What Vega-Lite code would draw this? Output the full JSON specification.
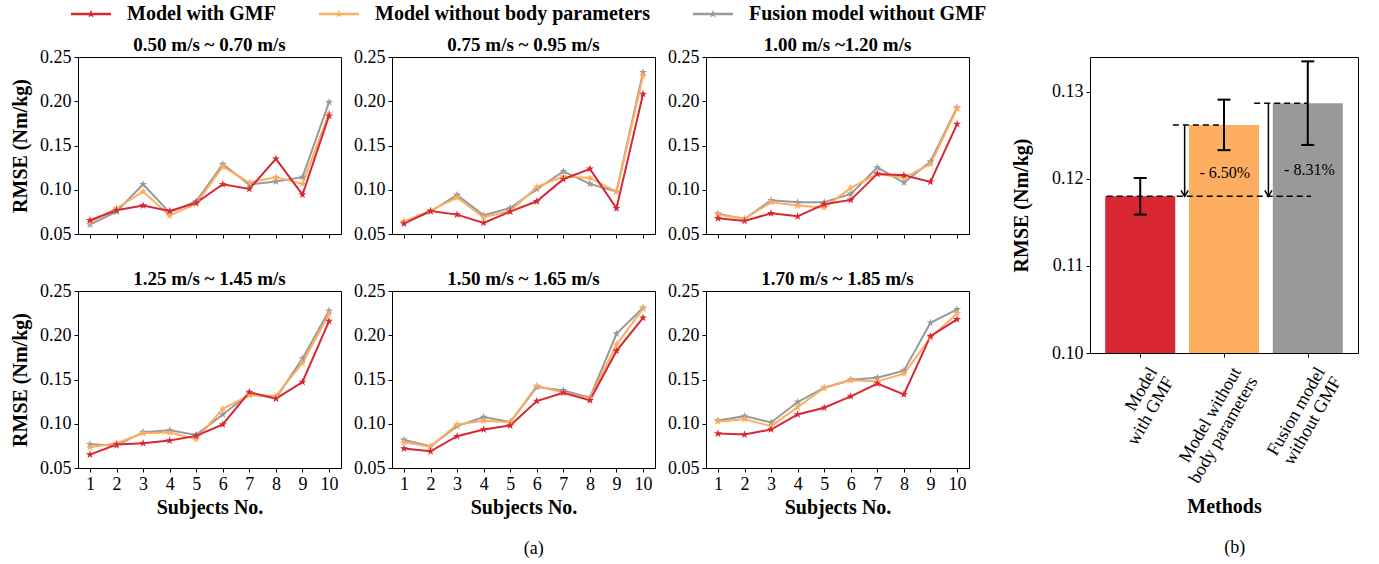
{
  "$schema": "https://vega.github.io/schema/vega-lite/v6.json",
  "padding": {"left": 10, "top": 4, "right": 5, "bottom": 5},
  "background": "white",
  "config": {
    "font": "Liberation Serif",
    "view": {"stroke": "#000", "strokeWidth": 1},
    "axis": {"labelFontSize": 18, "titleFontSize": 20, "titleFontWeight": "bold", "labelColor": "#000", "titleColor": "#000", "tickColor": "#000", "domainColor": "#000", "tickSize": 4, "grid": false, "labelPadding": 3, "domainWidth": 1, "tickWidth": 1},
    "title": {"fontSize": 19, "fontWeight": "bold", "color": "#000", "offset": -7}
  },
  "datasets": {
    "lines": [
      {"speed": "0.50 m/s ~ 0.70 m/s", "method": "Fusion model without GMF", "subject": 1, "rmse": 0.0606},
      {"speed": "0.50 m/s ~ 0.70 m/s", "method": "Fusion model without GMF", "subject": 2, "rmse": 0.0753},
      {"speed": "0.50 m/s ~ 0.70 m/s", "method": "Fusion model without GMF", "subject": 3, "rmse": 0.1062},
      {"speed": "0.50 m/s ~ 0.70 m/s", "method": "Fusion model without GMF", "subject": 4, "rmse": 0.0742},
      {"speed": "0.50 m/s ~ 0.70 m/s", "method": "Fusion model without GMF", "subject": 5, "rmse": 0.0870},
      {"speed": "0.50 m/s ~ 0.70 m/s", "method": "Fusion model without GMF", "subject": 6, "rmse": 0.1289},
      {"speed": "0.50 m/s ~ 0.70 m/s", "method": "Fusion model without GMF", "subject": 7, "rmse": 0.1058},
      {"speed": "0.50 m/s ~ 0.70 m/s", "method": "Fusion model without GMF", "subject": 8, "rmse": 0.1092},
      {"speed": "0.50 m/s ~ 0.70 m/s", "method": "Fusion model without GMF", "subject": 9, "rmse": 0.1142},
      {"speed": "0.50 m/s ~ 0.70 m/s", "method": "Fusion model without GMF", "subject": 10, "rmse": 0.1990},
      {"speed": "0.50 m/s ~ 0.70 m/s", "method": "Model without body parameters", "subject": 1, "rmse": 0.0632},
      {"speed": "0.50 m/s ~ 0.70 m/s", "method": "Model without body parameters", "subject": 2, "rmse": 0.0791},
      {"speed": "0.50 m/s ~ 0.70 m/s", "method": "Model without body parameters", "subject": 3, "rmse": 0.0979},
      {"speed": "0.50 m/s ~ 0.70 m/s", "method": "Model without body parameters", "subject": 4, "rmse": 0.0708},
      {"speed": "0.50 m/s ~ 0.70 m/s", "method": "Model without body parameters", "subject": 5, "rmse": 0.0843},
      {"speed": "0.50 m/s ~ 0.70 m/s", "method": "Model without body parameters", "subject": 6, "rmse": 0.1262},
      {"speed": "0.50 m/s ~ 0.70 m/s", "method": "Model without body parameters", "subject": 7, "rmse": 0.1081},
      {"speed": "0.50 m/s ~ 0.70 m/s", "method": "Model without body parameters", "subject": 8, "rmse": 0.1142},
      {"speed": "0.50 m/s ~ 0.70 m/s", "method": "Model without body parameters", "subject": 9, "rmse": 0.1066},
      {"speed": "0.50 m/s ~ 0.70 m/s", "method": "Model without body parameters", "subject": 10, "rmse": 0.1866},
      {"speed": "0.50 m/s ~ 0.70 m/s", "method": "Model with GMF", "subject": 1, "rmse": 0.0655},
      {"speed": "0.50 m/s ~ 0.70 m/s", "method": "Model with GMF", "subject": 2, "rmse": 0.0768},
      {"speed": "0.50 m/s ~ 0.70 m/s", "method": "Model with GMF", "subject": 3, "rmse": 0.0821},
      {"speed": "0.50 m/s ~ 0.70 m/s", "method": "Model with GMF", "subject": 4, "rmse": 0.0760},
      {"speed": "0.50 m/s ~ 0.70 m/s", "method": "Model with GMF", "subject": 5, "rmse": 0.0851},
      {"speed": "0.50 m/s ~ 0.70 m/s", "method": "Model with GMF", "subject": 6, "rmse": 0.1062},
      {"speed": "0.50 m/s ~ 0.70 m/s", "method": "Model with GMF", "subject": 7, "rmse": 0.1009},
      {"speed": "0.50 m/s ~ 0.70 m/s", "method": "Model with GMF", "subject": 8, "rmse": 0.1349},
      {"speed": "0.50 m/s ~ 0.70 m/s", "method": "Model with GMF", "subject": 9, "rmse": 0.0945},
      {"speed": "0.50 m/s ~ 0.70 m/s", "method": "Model with GMF", "subject": 10, "rmse": 0.1836},

      {"speed": "0.75 m/s ~ 0.95 m/s", "method": "Fusion model without GMF", "subject": 1, "rmse": 0.0632},
      {"speed": "0.75 m/s ~ 0.95 m/s", "method": "Fusion model without GMF", "subject": 2, "rmse": 0.0753},
      {"speed": "0.75 m/s ~ 0.95 m/s", "method": "Fusion model without GMF", "subject": 3, "rmse": 0.0942},
      {"speed": "0.75 m/s ~ 0.95 m/s", "method": "Fusion model without GMF", "subject": 4, "rmse": 0.0711},
      {"speed": "0.75 m/s ~ 0.95 m/s", "method": "Fusion model without GMF", "subject": 5, "rmse": 0.0794},
      {"speed": "0.75 m/s ~ 0.95 m/s", "method": "Fusion model without GMF", "subject": 6, "rmse": 0.1006},
      {"speed": "0.75 m/s ~ 0.95 m/s", "method": "Fusion model without GMF", "subject": 7, "rmse": 0.1208},
      {"speed": "0.75 m/s ~ 0.95 m/s", "method": "Fusion model without GMF", "subject": 8, "rmse": 0.1066},
      {"speed": "0.75 m/s ~ 0.95 m/s", "method": "Fusion model without GMF", "subject": 9, "rmse": 0.0980},
      {"speed": "0.75 m/s ~ 0.95 m/s", "method": "Fusion model without GMF", "subject": 10, "rmse": 0.2327},
      {"speed": "0.75 m/s ~ 0.95 m/s", "method": "Model without body parameters", "subject": 1, "rmse": 0.0643},
      {"speed": "0.75 m/s ~ 0.95 m/s", "method": "Model without body parameters", "subject": 2, "rmse": 0.0764},
      {"speed": "0.75 m/s ~ 0.95 m/s", "method": "Model without body parameters", "subject": 3, "rmse": 0.0911},
      {"speed": "0.75 m/s ~ 0.95 m/s", "method": "Model without body parameters", "subject": 4, "rmse": 0.0689},
      {"speed": "0.75 m/s ~ 0.95 m/s", "method": "Model without body parameters", "subject": 5, "rmse": 0.0760},
      {"speed": "0.75 m/s ~ 0.95 m/s", "method": "Model without body parameters", "subject": 6, "rmse": 0.1032},
      {"speed": "0.75 m/s ~ 0.95 m/s", "method": "Model without body parameters", "subject": 7, "rmse": 0.1149},
      {"speed": "0.75 m/s ~ 0.95 m/s", "method": "Model without body parameters", "subject": 8, "rmse": 0.1134},
      {"speed": "0.75 m/s ~ 0.95 m/s", "method": "Model without body parameters", "subject": 9, "rmse": 0.0978},
      {"speed": "0.75 m/s ~ 0.95 m/s", "method": "Model without body parameters", "subject": 10, "rmse": 0.2289},
      {"speed": "0.75 m/s ~ 0.95 m/s", "method": "Model with GMF", "subject": 1, "rmse": 0.0617},
      {"speed": "0.75 m/s ~ 0.95 m/s", "method": "Model with GMF", "subject": 2, "rmse": 0.0760},
      {"speed": "0.75 m/s ~ 0.95 m/s", "method": "Model with GMF", "subject": 3, "rmse": 0.0719},
      {"speed": "0.75 m/s ~ 0.95 m/s", "method": "Model with GMF", "subject": 4, "rmse": 0.0625},
      {"speed": "0.75 m/s ~ 0.95 m/s", "method": "Model with GMF", "subject": 5, "rmse": 0.0753},
      {"speed": "0.75 m/s ~ 0.95 m/s", "method": "Model with GMF", "subject": 6, "rmse": 0.0870},
      {"speed": "0.75 m/s ~ 0.95 m/s", "method": "Model with GMF", "subject": 7, "rmse": 0.1119},
      {"speed": "0.75 m/s ~ 0.95 m/s", "method": "Model with GMF", "subject": 8, "rmse": 0.1236},
      {"speed": "0.75 m/s ~ 0.95 m/s", "method": "Model with GMF", "subject": 9, "rmse": 0.0790},
      {"speed": "0.75 m/s ~ 0.95 m/s", "method": "Model with GMF", "subject": 10, "rmse": 0.2082},

      {"speed": "1.00 m/s ~1.20 m/s", "method": "Fusion model without GMF", "subject": 1, "rmse": 0.0730},
      {"speed": "1.00 m/s ~1.20 m/s", "method": "Fusion model without GMF", "subject": 2, "rmse": 0.0670},
      {"speed": "1.00 m/s ~1.20 m/s", "method": "Fusion model without GMF", "subject": 3, "rmse": 0.0881},
      {"speed": "1.00 m/s ~1.20 m/s", "method": "Fusion model without GMF", "subject": 4, "rmse": 0.0858},
      {"speed": "1.00 m/s ~1.20 m/s", "method": "Fusion model without GMF", "subject": 5, "rmse": 0.0858},
      {"speed": "1.00 m/s ~1.20 m/s", "method": "Fusion model without GMF", "subject": 6, "rmse": 0.0953},
      {"speed": "1.00 m/s ~1.20 m/s", "method": "Fusion model without GMF", "subject": 7, "rmse": 0.1251},
      {"speed": "1.00 m/s ~1.20 m/s", "method": "Fusion model without GMF", "subject": 8, "rmse": 0.1081},
      {"speed": "1.00 m/s ~1.20 m/s", "method": "Fusion model without GMF", "subject": 9, "rmse": 0.1319},
      {"speed": "1.00 m/s ~1.20 m/s", "method": "Fusion model without GMF", "subject": 10, "rmse": 0.1930},
      {"speed": "1.00 m/s ~1.20 m/s", "method": "Model without body parameters", "subject": 1, "rmse": 0.0719},
      {"speed": "1.00 m/s ~1.20 m/s", "method": "Model without body parameters", "subject": 2, "rmse": 0.0674},
      {"speed": "1.00 m/s ~1.20 m/s", "method": "Model without body parameters", "subject": 3, "rmse": 0.0858},
      {"speed": "1.00 m/s ~1.20 m/s", "method": "Model without body parameters", "subject": 4, "rmse": 0.0821},
      {"speed": "1.00 m/s ~1.20 m/s", "method": "Model without body parameters", "subject": 5, "rmse": 0.0798},
      {"speed": "1.00 m/s ~1.20 m/s", "method": "Model without body parameters", "subject": 6, "rmse": 0.1021},
      {"speed": "1.00 m/s ~1.20 m/s", "method": "Model without body parameters", "subject": 7, "rmse": 0.1179},
      {"speed": "1.00 m/s ~1.20 m/s", "method": "Model without body parameters", "subject": 8, "rmse": 0.1138},
      {"speed": "1.00 m/s ~1.20 m/s", "method": "Model without body parameters", "subject": 9, "rmse": 0.1289},
      {"speed": "1.00 m/s ~1.20 m/s", "method": "Model without body parameters", "subject": 10, "rmse": 0.1915},
      {"speed": "1.00 m/s ~1.20 m/s", "method": "Model with GMF", "subject": 1, "rmse": 0.0677},
      {"speed": "1.00 m/s ~1.20 m/s", "method": "Model with GMF", "subject": 2, "rmse": 0.0647},
      {"speed": "1.00 m/s ~1.20 m/s", "method": "Model with GMF", "subject": 3, "rmse": 0.0734},
      {"speed": "1.00 m/s ~1.20 m/s", "method": "Model with GMF", "subject": 4, "rmse": 0.0700},
      {"speed": "1.00 m/s ~1.20 m/s", "method": "Model with GMF", "subject": 5, "rmse": 0.0836},
      {"speed": "1.00 m/s ~1.20 m/s", "method": "Model with GMF", "subject": 6, "rmse": 0.0885},
      {"speed": "1.00 m/s ~1.20 m/s", "method": "Model with GMF", "subject": 7, "rmse": 0.1179},
      {"speed": "1.00 m/s ~1.20 m/s", "method": "Model with GMF", "subject": 8, "rmse": 0.1164},
      {"speed": "1.00 m/s ~1.20 m/s", "method": "Model with GMF", "subject": 9, "rmse": 0.1089},
      {"speed": "1.00 m/s ~1.20 m/s", "method": "Model with GMF", "subject": 10, "rmse": 0.1742},

      {"speed": "1.25 m/s ~ 1.45 m/s", "method": "Fusion model without GMF", "subject": 1, "rmse": 0.0768},
      {"speed": "1.25 m/s ~ 1.45 m/s", "method": "Fusion model without GMF", "subject": 2, "rmse": 0.0753},
      {"speed": "1.25 m/s ~ 1.45 m/s", "method": "Fusion model without GMF", "subject": 3, "rmse": 0.0905},
      {"speed": "1.25 m/s ~ 1.45 m/s", "method": "Fusion model without GMF", "subject": 4, "rmse": 0.0927},
      {"speed": "1.25 m/s ~ 1.45 m/s", "method": "Fusion model without GMF", "subject": 5, "rmse": 0.0874},
      {"speed": "1.25 m/s ~ 1.45 m/s", "method": "Fusion model without GMF", "subject": 6, "rmse": 0.1105},
      {"speed": "1.25 m/s ~ 1.45 m/s", "method": "Fusion model without GMF", "subject": 7, "rmse": 0.1339},
      {"speed": "1.25 m/s ~ 1.45 m/s", "method": "Fusion model without GMF", "subject": 8, "rmse": 0.1290},
      {"speed": "1.25 m/s ~ 1.45 m/s", "method": "Fusion model without GMF", "subject": 9, "rmse": 0.1736},
      {"speed": "1.25 m/s ~ 1.45 m/s", "method": "Fusion model without GMF", "subject": 10, "rmse": 0.2277},
      {"speed": "1.25 m/s ~ 1.45 m/s", "method": "Model without body parameters", "subject": 1, "rmse": 0.0734},
      {"speed": "1.25 m/s ~ 1.45 m/s", "method": "Model without body parameters", "subject": 2, "rmse": 0.0780},
      {"speed": "1.25 m/s ~ 1.45 m/s", "method": "Model without body parameters", "subject": 3, "rmse": 0.0893},
      {"speed": "1.25 m/s ~ 1.45 m/s", "method": "Model without body parameters", "subject": 4, "rmse": 0.0901},
      {"speed": "1.25 m/s ~ 1.45 m/s", "method": "Model without body parameters", "subject": 5, "rmse": 0.0825},
      {"speed": "1.25 m/s ~ 1.45 m/s", "method": "Model without body parameters", "subject": 6, "rmse": 0.1169},
      {"speed": "1.25 m/s ~ 1.45 m/s", "method": "Model without body parameters", "subject": 7, "rmse": 0.1320},
      {"speed": "1.25 m/s ~ 1.45 m/s", "method": "Model without body parameters", "subject": 8, "rmse": 0.1313},
      {"speed": "1.25 m/s ~ 1.45 m/s", "method": "Model without body parameters", "subject": 9, "rmse": 0.1687},
      {"speed": "1.25 m/s ~ 1.45 m/s", "method": "Model without body parameters", "subject": 10, "rmse": 0.2239},
      {"speed": "1.25 m/s ~ 1.45 m/s", "method": "Model with GMF", "subject": 1, "rmse": 0.0651},
      {"speed": "1.25 m/s ~ 1.45 m/s", "method": "Model with GMF", "subject": 2, "rmse": 0.0765},
      {"speed": "1.25 m/s ~ 1.45 m/s", "method": "Model with GMF", "subject": 3, "rmse": 0.0780},
      {"speed": "1.25 m/s ~ 1.45 m/s", "method": "Model with GMF", "subject": 4, "rmse": 0.0810},
      {"speed": "1.25 m/s ~ 1.45 m/s", "method": "Model with GMF", "subject": 5, "rmse": 0.0863},
      {"speed": "1.25 m/s ~ 1.45 m/s", "method": "Model with GMF", "subject": 6, "rmse": 0.0992},
      {"speed": "1.25 m/s ~ 1.45 m/s", "method": "Model with GMF", "subject": 7, "rmse": 0.1358},
      {"speed": "1.25 m/s ~ 1.45 m/s", "method": "Model with GMF", "subject": 8, "rmse": 0.1283},
      {"speed": "1.25 m/s ~ 1.45 m/s", "method": "Model with GMF", "subject": 9, "rmse": 0.1472},
      {"speed": "1.25 m/s ~ 1.45 m/s", "method": "Model with GMF", "subject": 10, "rmse": 0.2160},

      {"speed": "1.50 m/s ~ 1.65 m/s", "method": "Fusion model without GMF", "subject": 1, "rmse": 0.0818},
      {"speed": "1.50 m/s ~ 1.65 m/s", "method": "Fusion model without GMF", "subject": 2, "rmse": 0.0746},
      {"speed": "1.50 m/s ~ 1.65 m/s", "method": "Fusion model without GMF", "subject": 3, "rmse": 0.0973},
      {"speed": "1.50 m/s ~ 1.65 m/s", "method": "Fusion model without GMF", "subject": 4, "rmse": 0.1075},
      {"speed": "1.50 m/s ~ 1.65 m/s", "method": "Fusion model without GMF", "subject": 5, "rmse": 0.1018},
      {"speed": "1.50 m/s ~ 1.65 m/s", "method": "Fusion model without GMF", "subject": 6, "rmse": 0.1415},
      {"speed": "1.50 m/s ~ 1.65 m/s", "method": "Fusion model without GMF", "subject": 7, "rmse": 0.1377},
      {"speed": "1.50 m/s ~ 1.65 m/s", "method": "Fusion model without GMF", "subject": 8, "rmse": 0.1294},
      {"speed": "1.50 m/s ~ 1.65 m/s", "method": "Fusion model without GMF", "subject": 9, "rmse": 0.2016},
      {"speed": "1.50 m/s ~ 1.65 m/s", "method": "Fusion model without GMF", "subject": 10, "rmse": 0.2310},
      {"speed": "1.50 m/s ~ 1.65 m/s", "method": "Model without body parameters", "subject": 1, "rmse": 0.0791},
      {"speed": "1.50 m/s ~ 1.65 m/s", "method": "Model without body parameters", "subject": 2, "rmse": 0.0742},
      {"speed": "1.50 m/s ~ 1.65 m/s", "method": "Model without body parameters", "subject": 3, "rmse": 0.0991},
      {"speed": "1.50 m/s ~ 1.65 m/s", "method": "Model without body parameters", "subject": 4, "rmse": 0.1033},
      {"speed": "1.50 m/s ~ 1.65 m/s", "method": "Model without body parameters", "subject": 5, "rmse": 0.1018},
      {"speed": "1.50 m/s ~ 1.65 m/s", "method": "Model without body parameters", "subject": 6, "rmse": 0.1430},
      {"speed": "1.50 m/s ~ 1.65 m/s", "method": "Model without body parameters", "subject": 7, "rmse": 0.1351},
      {"speed": "1.50 m/s ~ 1.65 m/s", "method": "Model without body parameters", "subject": 8, "rmse": 0.1283},
      {"speed": "1.50 m/s ~ 1.65 m/s", "method": "Model without body parameters", "subject": 9, "rmse": 0.1895},
      {"speed": "1.50 m/s ~ 1.65 m/s", "method": "Model without body parameters", "subject": 10, "rmse": 0.2300},
      {"speed": "1.50 m/s ~ 1.65 m/s", "method": "Model with GMF", "subject": 1, "rmse": 0.0719},
      {"speed": "1.50 m/s ~ 1.65 m/s", "method": "Model with GMF", "subject": 2, "rmse": 0.0689},
      {"speed": "1.50 m/s ~ 1.65 m/s", "method": "Model with GMF", "subject": 3, "rmse": 0.0859},
      {"speed": "1.50 m/s ~ 1.65 m/s", "method": "Model with GMF", "subject": 4, "rmse": 0.0935},
      {"speed": "1.50 m/s ~ 1.65 m/s", "method": "Model with GMF", "subject": 5, "rmse": 0.0980},
      {"speed": "1.50 m/s ~ 1.65 m/s", "method": "Model with GMF", "subject": 6, "rmse": 0.1256},
      {"speed": "1.50 m/s ~ 1.65 m/s", "method": "Model with GMF", "subject": 7, "rmse": 0.1351},
      {"speed": "1.50 m/s ~ 1.65 m/s", "method": "Model with GMF", "subject": 8, "rmse": 0.1264},
      {"speed": "1.50 m/s ~ 1.65 m/s", "method": "Model with GMF", "subject": 9, "rmse": 0.1823},
      {"speed": "1.50 m/s ~ 1.65 m/s", "method": "Model with GMF", "subject": 10, "rmse": 0.2197},

      {"speed": "1.70 m/s ~ 1.85 m/s", "method": "Fusion model without GMF", "subject": 1, "rmse": 0.1037},
      {"speed": "1.70 m/s ~ 1.85 m/s", "method": "Fusion model without GMF", "subject": 2, "rmse": 0.1086},
      {"speed": "1.70 m/s ~ 1.85 m/s", "method": "Fusion model without GMF", "subject": 3, "rmse": 0.1014},
      {"speed": "1.70 m/s ~ 1.85 m/s", "method": "Fusion model without GMF", "subject": 4, "rmse": 0.1245},
      {"speed": "1.70 m/s ~ 1.85 m/s", "method": "Fusion model without GMF", "subject": 5, "rmse": 0.1407},
      {"speed": "1.70 m/s ~ 1.85 m/s", "method": "Fusion model without GMF", "subject": 6, "rmse": 0.1498},
      {"speed": "1.70 m/s ~ 1.85 m/s", "method": "Fusion model without GMF", "subject": 7, "rmse": 0.1521},
      {"speed": "1.70 m/s ~ 1.85 m/s", "method": "Fusion model without GMF", "subject": 8, "rmse": 0.1600},
      {"speed": "1.70 m/s ~ 1.85 m/s", "method": "Fusion model without GMF", "subject": 9, "rmse": 0.2141},
      {"speed": "1.70 m/s ~ 1.85 m/s", "method": "Fusion model without GMF", "subject": 10, "rmse": 0.2292},
      {"speed": "1.70 m/s ~ 1.85 m/s", "method": "Model without body parameters", "subject": 1, "rmse": 0.1026},
      {"speed": "1.70 m/s ~ 1.85 m/s", "method": "Model without body parameters", "subject": 2, "rmse": 0.1052},
      {"speed": "1.70 m/s ~ 1.85 m/s", "method": "Model without body parameters", "subject": 3, "rmse": 0.0973},
      {"speed": "1.70 m/s ~ 1.85 m/s", "method": "Model without body parameters", "subject": 4, "rmse": 0.1188},
      {"speed": "1.70 m/s ~ 1.85 m/s", "method": "Model without body parameters", "subject": 5, "rmse": 0.1404},
      {"speed": "1.70 m/s ~ 1.85 m/s", "method": "Model without body parameters", "subject": 6, "rmse": 0.1491},
      {"speed": "1.70 m/s ~ 1.85 m/s", "method": "Model without body parameters", "subject": 7, "rmse": 0.1479},
      {"speed": "1.70 m/s ~ 1.85 m/s", "method": "Model without body parameters", "subject": 8, "rmse": 0.1566},
      {"speed": "1.70 m/s ~ 1.85 m/s", "method": "Model without body parameters", "subject": 9, "rmse": 0.1974},
      {"speed": "1.70 m/s ~ 1.85 m/s", "method": "Model without body parameters", "subject": 10, "rmse": 0.2247},
      {"speed": "1.70 m/s ~ 1.85 m/s", "method": "Model with GMF", "subject": 1, "rmse": 0.0889},
      {"speed": "1.70 m/s ~ 1.85 m/s", "method": "Model with GMF", "subject": 2, "rmse": 0.0878},
      {"speed": "1.70 m/s ~ 1.85 m/s", "method": "Model with GMF", "subject": 3, "rmse": 0.0935},
      {"speed": "1.70 m/s ~ 1.85 m/s", "method": "Model with GMF", "subject": 4, "rmse": 0.1105},
      {"speed": "1.70 m/s ~ 1.85 m/s", "method": "Model with GMF", "subject": 5, "rmse": 0.1181},
      {"speed": "1.70 m/s ~ 1.85 m/s", "method": "Model with GMF", "subject": 6, "rmse": 0.1309},
      {"speed": "1.70 m/s ~ 1.85 m/s", "method": "Model with GMF", "subject": 7, "rmse": 0.1453},
      {"speed": "1.70 m/s ~ 1.85 m/s", "method": "Model with GMF", "subject": 8, "rmse": 0.1332},
      {"speed": "1.70 m/s ~ 1.85 m/s", "method": "Model with GMF", "subject": 9, "rmse": 0.1990},
      {"speed": "1.70 m/s ~ 1.85 m/s", "method": "Model with GMF", "subject": 10, "rmse": 0.2179}
    ],
    "bars": [
      {"method": "Model with GMF", "idx": 0, "rmse": 0.1180, "lo": 0.1159, "hi": 0.1201},
      {"method": "Model without body parameters", "idx": 1, "rmse": 0.1262, "lo": 0.1233, "hi": 0.1291},
      {"method": "Fusion model without GMF", "idx": 2, "rmse": 0.1287, "lo": 0.1239, "hi": 0.1335}
    ],
    "dash": [
      {"from": -0.4, "to": 2.04, "level": 0.1180},
      {"from": 0.39, "to": 1.0, "level": 0.1262},
      {"from": 1.36, "to": 2.0, "level": 0.1287}
    ],
    "arrows": [
      {"at": 0.53, "top": 0.1262, "bottom": 0.1180},
      {"at": 1.53, "top": 0.1287, "bottom": 0.1180}
    ],
    "notes": [
      {"at": 1.01, "level": 0.1207, "label": "- 6.50%"},
      {"at": 2.02, "level": 0.1210, "label": "- 8.31%"}
    ]
  },
  "hconcat": [
    {
      "title": {"text": "(a)", "orient": "bottom", "anchor": "middle", "frame": "bounds", "dx": 44, "fontWeight": "normal", "fontSize": 18, "offset": 22},
      "spacing": 25,
      "vconcat": [
        {
          "spacing": 11,
          "hconcat": [
            {
              "width": 263, "height": 177,
              "title": "0.50 m/s ~ 0.70 m/s",
              "data": {"name": "lines"},
              "transform": [{"filter": {"field": "speed", "equal": "0.50 m/s ~ 0.70 m/s"}}],
              "mark": {"type": "line", "strokeWidth": 2, "point": {"shape": "M0,-1L0.2245,-0.309L0.951,-0.309L0.363,0.118L0.588,0.809L0,0.382L-0.588,0.809L-0.363,0.118L-0.951,-0.309L-0.2245,-0.309Z", "filled": true, "size": 72, "opacity": 1}},
              "encoding": {
                "x": {"field": "subject", "type": "quantitative", "scale": {"domain": [0.55, 10.45], "nice": false, "zero": false}, "axis": {"values": [1,2,3,4,5,6,7,8,9,10], "labels": false, "title": null}},
                "y": {"field": "rmse", "type": "quantitative", "scale": {"domain": [0.05, 0.25], "nice": false, "zero": false}, "axis": {"values": [0.05,0.1,0.15,0.2,0.25], "format": ".2f", "title": "RMSE (Nm/kg)", "titlePadding": 9, "labelFlush": false}},
                "color": {"field": "method", "type": "nominal", "scale": {"domain": ["Model with GMF", "Model without body parameters", "Fusion model without GMF"], "range": ["#d82633", "#fdae61", "#999999"]},
                  "legend": {"orient": "none", "legendX": 3, "legendY": -53, "direction": "horizontal", "title": null, "symbolType": "M-2,-0.12H2V0.12H-2Z M0,-0.44L0.0988,-0.136L0.418,-0.136L0.16,0.052L0.259,0.356L0,0.168L-0.259,0.356L-0.16,0.052L-0.418,-0.136L-0.0988,-0.136Z", "symbolSize": 400, "labelFontSize": 20, "labelFontWeight": "bold", "labelColor": "#000", "labelOffset": 26, "columnPadding": 43, "padding": 0, "labelLimit": 500,
                    "encode": {"symbols": {"update": {"fill": {"scale": "color", "field": "value"}, "stroke": {"value": "transparent"}, "strokeWidth": {"value": 0}, "opacity": {"value": 1}}}}}}
              }
            },
            {
              "width": 263, "height": 177,
              "title": "0.75 m/s ~ 0.95 m/s",
              "data": {"name": "lines"},
              "transform": [{"filter": {"field": "speed", "equal": "0.75 m/s ~ 0.95 m/s"}}],
              "mark": {"type": "line", "strokeWidth": 2, "point": {"shape": "M0,-1L0.2245,-0.309L0.951,-0.309L0.363,0.118L0.588,0.809L0,0.382L-0.588,0.809L-0.363,0.118L-0.951,-0.309L-0.2245,-0.309Z", "filled": true, "size": 72, "opacity": 1}},
              "encoding": {
                "x": {"field": "subject", "type": "quantitative", "scale": {"domain": [0.55, 10.45], "nice": false, "zero": false}, "axis": {"values": [1,2,3,4,5,6,7,8,9,10], "labels": false, "title": null}},
                "y": {"field": "rmse", "type": "quantitative", "scale": {"domain": [0.05, 0.25], "nice": false, "zero": false}, "axis": {"values": [0.05,0.1,0.15,0.2,0.25], "format": ".2f", "title": null, "labelFlush": false}},
                "color": {"field": "method", "type": "nominal", "scale": {"domain": ["Model with GMF", "Model without body parameters", "Fusion model without GMF"], "range": ["#d82633", "#fdae61", "#999999"]},
                  "legend": {"orient": "none", "legendX": 3, "legendY": -53, "direction": "horizontal", "title": null, "symbolType": "M-2,-0.12H2V0.12H-2Z M0,-0.44L0.0988,-0.136L0.418,-0.136L0.16,0.052L0.259,0.356L0,0.168L-0.259,0.356L-0.16,0.052L-0.418,-0.136L-0.0988,-0.136Z", "symbolSize": 400, "labelFontSize": 20, "labelFontWeight": "bold", "labelColor": "#000", "labelOffset": 26, "columnPadding": 43, "padding": 0, "labelLimit": 500,
                    "encode": {"symbols": {"update": {"fill": {"scale": "color", "field": "value"}, "stroke": {"value": "transparent"}, "strokeWidth": {"value": 0}, "opacity": {"value": 1}}}}}}
              }
            },
            {
              "width": 263, "height": 177,
              "title": "1.00 m/s ~1.20 m/s",
              "data": {"name": "lines"},
              "transform": [{"filter": {"field": "speed", "equal": "1.00 m/s ~1.20 m/s"}}],
              "mark": {"type": "line", "strokeWidth": 2, "point": {"shape": "M0,-1L0.2245,-0.309L0.951,-0.309L0.363,0.118L0.588,0.809L0,0.382L-0.588,0.809L-0.363,0.118L-0.951,-0.309L-0.2245,-0.309Z", "filled": true, "size": 72, "opacity": 1}},
              "encoding": {
                "x": {"field": "subject", "type": "quantitative", "scale": {"domain": [0.55, 10.45], "nice": false, "zero": false}, "axis": {"values": [1,2,3,4,5,6,7,8,9,10], "labels": false, "title": null}},
                "y": {"field": "rmse", "type": "quantitative", "scale": {"domain": [0.05, 0.25], "nice": false, "zero": false}, "axis": {"values": [0.05,0.1,0.15,0.2,0.25], "format": ".2f", "title": null, "labelFlush": false}},
                "color": {"field": "method", "type": "nominal", "scale": {"domain": ["Model with GMF", "Model without body parameters", "Fusion model without GMF"], "range": ["#d82633", "#fdae61", "#999999"]},
                  "legend": {"orient": "none", "legendX": 3, "legendY": -53, "direction": "horizontal", "title": null, "symbolType": "M-2,-0.12H2V0.12H-2Z M0,-0.44L0.0988,-0.136L0.418,-0.136L0.16,0.052L0.259,0.356L0,0.168L-0.259,0.356L-0.16,0.052L-0.418,-0.136L-0.0988,-0.136Z", "symbolSize": 400, "labelFontSize": 20, "labelFontWeight": "bold", "labelColor": "#000", "labelOffset": 26, "columnPadding": 43, "padding": 0, "labelLimit": 500,
                    "encode": {"symbols": {"update": {"fill": {"scale": "color", "field": "value"}, "stroke": {"value": "transparent"}, "strokeWidth": {"value": 0}, "opacity": {"value": 1}}}}}}
              }
            }
          ]
        },
        {
          "spacing": 11,
          "hconcat": [
            {
              "width": 263, "height": 177,
              "title": "1.25 m/s ~ 1.45 m/s",
              "data": {"name": "lines"},
              "transform": [{"filter": {"field": "speed", "equal": "1.25 m/s ~ 1.45 m/s"}}],
              "mark": {"type": "line", "strokeWidth": 2, "point": {"shape": "M0,-1L0.2245,-0.309L0.951,-0.309L0.363,0.118L0.588,0.809L0,0.382L-0.588,0.809L-0.363,0.118L-0.951,-0.309L-0.2245,-0.309Z", "filled": true, "size": 72, "opacity": 1}},
              "encoding": {
                "x": {"field": "subject", "type": "quantitative", "scale": {"domain": [0.55, 10.45], "nice": false, "zero": false}, "axis": {"values": [1,2,3,4,5,6,7,8,9,10], "format": "d", "title": "Subjects No.", "titlePadding": 4, "labelFlush": false}},
                "y": {"field": "rmse", "type": "quantitative", "scale": {"domain": [0.05, 0.25], "nice": false, "zero": false}, "axis": {"values": [0.05,0.1,0.15,0.2,0.25], "format": ".2f", "title": "RMSE (Nm/kg)", "titlePadding": 9, "labelFlush": false}},
                "color": {"field": "method", "type": "nominal", "scale": {"domain": ["Model with GMF", "Model without body parameters", "Fusion model without GMF"], "range": ["#d82633", "#fdae61", "#999999"]},
                  "legend": {"orient": "none", "legendX": 3, "legendY": -53, "direction": "horizontal", "title": null, "symbolType": "M-2,-0.12H2V0.12H-2Z M0,-0.44L0.0988,-0.136L0.418,-0.136L0.16,0.052L0.259,0.356L0,0.168L-0.259,0.356L-0.16,0.052L-0.418,-0.136L-0.0988,-0.136Z", "symbolSize": 400, "labelFontSize": 20, "labelFontWeight": "bold", "labelColor": "#000", "labelOffset": 26, "columnPadding": 43, "padding": 0, "labelLimit": 500,
                    "encode": {"symbols": {"update": {"fill": {"scale": "color", "field": "value"}, "stroke": {"value": "transparent"}, "strokeWidth": {"value": 0}, "opacity": {"value": 1}}}}}}
              }
            },
            {
              "width": 263, "height": 177,
              "title": "1.50 m/s ~ 1.65 m/s",
              "data": {"name": "lines"},
              "transform": [{"filter": {"field": "speed", "equal": "1.50 m/s ~ 1.65 m/s"}}],
              "mark": {"type": "line", "strokeWidth": 2, "point": {"shape": "M0,-1L0.2245,-0.309L0.951,-0.309L0.363,0.118L0.588,0.809L0,0.382L-0.588,0.809L-0.363,0.118L-0.951,-0.309L-0.2245,-0.309Z", "filled": true, "size": 72, "opacity": 1}},
              "encoding": {
                "x": {"field": "subject", "type": "quantitative", "scale": {"domain": [0.55, 10.45], "nice": false, "zero": false}, "axis": {"values": [1,2,3,4,5,6,7,8,9,10], "format": "d", "title": "Subjects No.", "titlePadding": 4, "labelFlush": false}},
                "y": {"field": "rmse", "type": "quantitative", "scale": {"domain": [0.05, 0.25], "nice": false, "zero": false}, "axis": {"values": [0.05,0.1,0.15,0.2,0.25], "format": ".2f", "title": null, "labelFlush": false}},
                "color": {"field": "method", "type": "nominal", "scale": {"domain": ["Model with GMF", "Model without body parameters", "Fusion model without GMF"], "range": ["#d82633", "#fdae61", "#999999"]},
                  "legend": {"orient": "none", "legendX": 3, "legendY": -53, "direction": "horizontal", "title": null, "symbolType": "M-2,-0.12H2V0.12H-2Z M0,-0.44L0.0988,-0.136L0.418,-0.136L0.16,0.052L0.259,0.356L0,0.168L-0.259,0.356L-0.16,0.052L-0.418,-0.136L-0.0988,-0.136Z", "symbolSize": 400, "labelFontSize": 20, "labelFontWeight": "bold", "labelColor": "#000", "labelOffset": 26, "columnPadding": 43, "padding": 0, "labelLimit": 500,
                    "encode": {"symbols": {"update": {"fill": {"scale": "color", "field": "value"}, "stroke": {"value": "transparent"}, "strokeWidth": {"value": 0}, "opacity": {"value": 1}}}}}}
              }
            },
            {
              "width": 263, "height": 177,
              "title": "1.70 m/s ~ 1.85 m/s",
              "data": {"name": "lines"},
              "transform": [{"filter": {"field": "speed", "equal": "1.70 m/s ~ 1.85 m/s"}}],
              "mark": {"type": "line", "strokeWidth": 2, "point": {"shape": "M0,-1L0.2245,-0.309L0.951,-0.309L0.363,0.118L0.588,0.809L0,0.382L-0.588,0.809L-0.363,0.118L-0.951,-0.309L-0.2245,-0.309Z", "filled": true, "size": 72, "opacity": 1}},
              "encoding": {
                "x": {"field": "subject", "type": "quantitative", "scale": {"domain": [0.55, 10.45], "nice": false, "zero": false}, "axis": {"values": [1,2,3,4,5,6,7,8,9,10], "format": "d", "title": "Subjects No.", "titlePadding": 4, "labelFlush": false}},
                "y": {"field": "rmse", "type": "quantitative", "scale": {"domain": [0.05, 0.25], "nice": false, "zero": false}, "axis": {"values": [0.05,0.1,0.15,0.2,0.25], "format": ".2f", "title": null, "labelFlush": false}},
                "color": {"field": "method", "type": "nominal", "scale": {"domain": ["Model with GMF", "Model without body parameters", "Fusion model without GMF"], "range": ["#d82633", "#fdae61", "#999999"]},
                  "legend": {"orient": "none", "legendX": 3, "legendY": -53, "direction": "horizontal", "title": null, "symbolType": "M-2,-0.12H2V0.12H-2Z M0,-0.44L0.0988,-0.136L0.418,-0.136L0.16,0.052L0.259,0.356L0,0.168L-0.259,0.356L-0.16,0.052L-0.418,-0.136L-0.0988,-0.136Z", "symbolSize": 400, "labelFontSize": 20, "labelFontWeight": "bold", "labelColor": "#000", "labelOffset": 26, "columnPadding": 43, "padding": 0, "labelLimit": 500,
                    "encode": {"symbols": {"update": {"fill": {"scale": "color", "field": "value"}, "stroke": {"value": "transparent"}, "strokeWidth": {"value": 0}, "opacity": {"value": 1}}}}}}
              }
            }
          ]
        }
      ]
    },
    {
      "title": {"text": "(b)", "orient": "bottom", "anchor": "middle", "frame": "bounds", "dx": 50, "fontWeight": "normal", "fontSize": 18, "offset": 22},
      "vconcat": [
        {
          "width": 268, "height": 296,
          "layer": [
            {
              "data": {"name": "bars"},
              "mark": {"type": "bar", "width": 70},
              "encoding": {
                "x": {"field": "idx", "type": "quantitative", "title": "Methods", "scale": {"domain": [-0.54, 2.54], "nice": false, "zero": false},
                  "axis": {"values": [0, 1, 2], "labelExpr": "datum.value == 0 ? ['Model', 'with GMF'] : datum.value == 1 ? ['Model without', 'body parameters'] : ['Fusion model', 'without GMF']", "labelAngle": -60, "labelAlign": "right", "labelBaseline": "top", "labelPadding": 7, "labelOffset": 5, "labelLineHeight": 19, "labelOverlap": false, "labelBound": false, "labelFlush": false, "titlePadding": 11}},
                "y": {"field": "rmse", "type": "quantitative", "title": "RMSE (Nm/kg)", "scale": {"domain": [0.1, 0.134], "nice": false, "zero": false},
                  "axis": {"values": [0.10, 0.11, 0.12, 0.13], "format": ".2f", "titlePadding": 20, "labelFlush": false}},
                "y2": {"datum": 0.1},
                "fill": {"field": "method", "type": "nominal", "scale": {"domain": ["Model with GMF", "Model without body parameters", "Fusion model without GMF"], "range": ["#d82633", "#fdae61", "#999999"]}, "legend": null}
              }
            },
            {
              "data": {"name": "dash"},
              "mark": {"type": "rule", "color": "#000", "strokeDash": [6, 4], "strokeWidth": 1.5},
              "encoding": {
                "x": {"field": "from", "type": "quantitative", "title": "Methods"},
                "x2": {"field": "to"},
                "y": {"field": "level", "type": "quantitative", "title": "RMSE (Nm/kg)"}
              }
            },
            {
              "data": {"name": "bars"},
              "mark": {"type": "rule", "color": "#000", "strokeWidth": 2},
              "encoding": {
                "x": {"field": "idx", "type": "quantitative", "title": "Methods"},
                "y": {"field": "lo", "type": "quantitative", "title": "RMSE (Nm/kg)"},
                "y2": {"field": "hi"}
              }
            },
            {
              "data": {"name": "bars"},
              "mark": {"type": "tick", "orient": "horizontal", "color": "#000", "size": 13, "thickness": 2, "opacity": 1},
              "encoding": {
                "x": {"field": "idx", "type": "quantitative", "title": "Methods"},
                "y": {"field": "lo", "type": "quantitative", "title": "RMSE (Nm/kg)"}
              }
            },
            {
              "data": {"name": "bars"},
              "mark": {"type": "tick", "orient": "horizontal", "color": "#000", "size": 13, "thickness": 2, "opacity": 1},
              "encoding": {
                "x": {"field": "idx", "type": "quantitative", "title": "Methods"},
                "y": {"field": "hi", "type": "quantitative", "title": "RMSE (Nm/kg)"}
              }
            },
            {
              "data": {"name": "arrows"},
              "mark": {"type": "rule", "color": "#000", "strokeWidth": 1.5},
              "encoding": {
                "x": {"field": "at", "type": "quantitative", "title": "Methods"},
                "y": {"field": "top", "type": "quantitative", "title": "RMSE (Nm/kg)"},
                "y2": {"field": "bottom"}
              }
            },
            {
              "data": {"name": "arrows"},
              "mark": {"type": "point", "shape": "M-0.6,-1L0,0L0.6,-1", "filled": false, "stroke": "#000", "strokeWidth": 1.5, "size": 144, "opacity": 1},
              "encoding": {
                "x": {"field": "at", "type": "quantitative", "title": "Methods"},
                "y": {"field": "bottom", "type": "quantitative", "title": "RMSE (Nm/kg)"}
              }
            },
            {
              "data": {"name": "notes"},
              "mark": {"type": "text", "fontSize": 16, "color": "#000", "baseline": "middle", "align": "center"},
              "encoding": {
                "x": {"field": "at", "type": "quantitative", "title": "Methods"},
                "y": {"field": "level", "type": "quantitative", "title": "RMSE (Nm/kg)"},
                "text": {"field": "label"}
              }
            }
          ]
        }
      ]
    }
  ],
  "spacing": 41
}
